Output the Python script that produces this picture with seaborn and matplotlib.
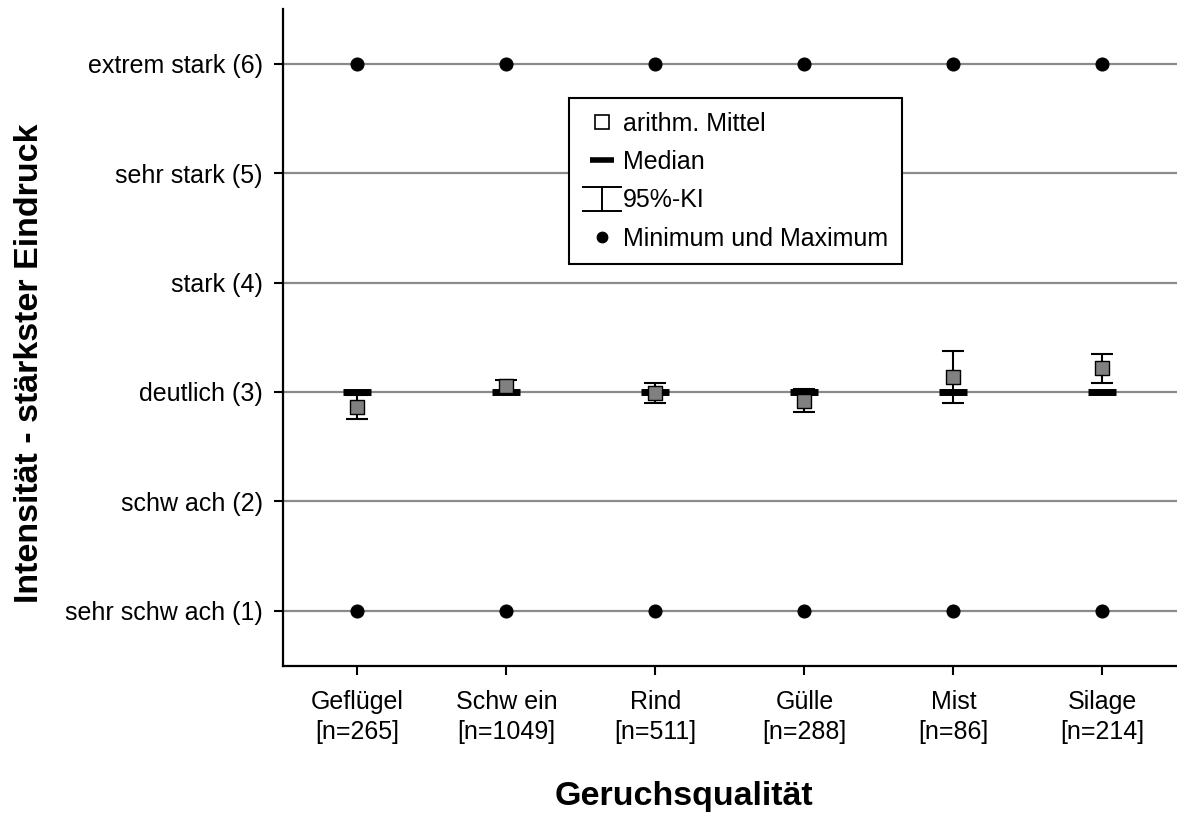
import numpy as np
import pandas as pd
import matplotlib
matplotlib.use("Agg")
import matplotlib.pyplot as plt
import seaborn as sns
from matplotlib.lines import Line2D
from matplotlib.path import Path

categories = ["Geflügel\n[n=265]", "Schw ein\n[n=1049]", "Rind\n[n=511]",
              "Gülle\n[n=288]", "Mist\n[n=86]", "Silage\n[n=214]"]
mean_vals = [2.86, 3.05, 2.99, 2.92, 3.14, 3.22]
ci_low = [2.75, 2.99, 2.90, 2.82, 2.90, 3.08]
ci_high = [2.97, 3.11, 3.08, 3.03, 3.37, 3.35]
median_vals = [3, 3, 3, 3, 3, 3]
min_vals = [1, 1, 1, 1, 1, 1]
max_vals = [6, 6, 6, 6, 6, 6]
ytick_labels = ["sehr schw ach (1)", "schw ach (2)", "deutlich (3)",
                "stark (4)", "sehr stark (5)", "extrem stark (6)"]
legend_labels = ["arithm. Mittel", "Median", "95%-KI", "Minimum und Maximum"]

sns.set_theme(style="white", rc={"text.color": "black",
                                 "axes.labelcolor": "black",
                                 "xtick.color": "black",
                                 "ytick.color": "black"})
plt.rcParams['font.family'] = ['Liberation Sans', 'DejaVu Sans']

df = pd.DataFrame({"cat": categories, "mean": mean_vals, "lo": ci_low,
                   "hi": ci_high, "median": median_vals,
                   "min": min_vals, "max": max_vals})

fig = plt.figure(figsize=(11.77, 8.16), dpi=100)
ax = fig.add_axes([0.2404, 0.1844, 0.7596, 0.8046])

for yv in range(1, 7):
    ax.axhline(yv, color="#8a8a8a", lw=1.6, zorder=1)

# min / max dots
sns.scatterplot(data=df, x="cat", y="min", ax=ax, color="black", s=88,
                marker="o", edgecolor="black", zorder=3, legend=False)
sns.scatterplot(data=df, x="cat", y="max", ax=ax, color="black", s=88,
                marker="o", edgecolor="black", zorder=3, legend=False)

xpos = np.arange(len(categories))
# median bars
ax.plot(xpos, df["median"], linestyle="none", marker="_", markersize=19.5,
        markeredgewidth=5, color="black", zorder=3)
# CI
ax.errorbar(xpos, df["mean"],
            yerr=[df["mean"] - df["lo"], df["hi"] - df["mean"]],
            fmt="none", ecolor="black", elinewidth=1.5, capsize=8, capthick=1.5,
            zorder=4)
# mean squares
sns.scatterplot(data=df, x="cat", y="mean", ax=ax, color="#808080", s=105,
                marker="s", edgecolor="black", linewidth=1.0, zorder=5,
                legend=False)

ax.set_xlim(-0.5, 5.5)
ax.set_ylim(0.5, 6.5)
ax.set_yticks(range(1, 7))
ax.set_yticklabels(ytick_labels, fontsize=18)
ax.set_xticks(xpos)
ax.set_xticklabels(categories, fontsize=18, linespacing=1.3)
ax.tick_params(axis="both", which="both", direction="out", length=6.5,
               width=1.5, color="black", left=True, bottom=True)
ax.tick_params(axis="y", pad=8)
ax.tick_params(axis="x", pad=11)
for side in ["top", "right"]:
    ax.spines[side].set_visible(False)
for side in ["left", "bottom"]:
    ax.spines[side].set_color("black")
    ax.spines[side].set_linewidth(1.6)

ax.set_xlabel("Geruchsqualität", fontsize=24.5, fontweight="bold")
ax.set_ylabel("Intensität - stärkster Eindruck", fontsize=24.5,
              fontweight="bold")
ax.xaxis.set_label_coords(0.449, -0.176)
ax.yaxis.set_label_coords(-0.266, 0.461)

ci_path = Path([(-0.5, 0.3), (0.5, 0.3), (0, 0.3), (0, -0.3),
                (-0.5, -0.3), (0.5, -0.3)],
               [Path.MOVETO, Path.LINETO, Path.MOVETO, Path.LINETO,
                Path.MOVETO, Path.LINETO])
handles = [
    Line2D([], [], linestyle="none", marker="s", markersize=10,
           markerfacecolor="white", markeredgecolor="black", markeredgewidth=1.2),
    Line2D([], [], linestyle="none", marker="_", markersize=17,
           markeredgewidth=4, color="black"),
    Line2D([], [], linestyle="none", marker=ci_path, markersize=29,
           markeredgewidth=1.4, color="black", fillstyle="none"),
    Line2D([], [], linestyle="none", marker="o", markersize=7.5, color="black"),
]
leg = ax.legend(handles, legend_labels, loc="upper left",
                bbox_to_anchor=(0.32, 0.8644), fontsize=18, frameon=True,
                fancybox=False, edgecolor="black", framealpha=1,
                handlelength=1.5, handletextpad=0.1, borderpad=0.55,
                labelspacing=0.57, borderaxespad=0)
leg.get_frame().set_linewidth(1.5)

fig.savefig("out.png", dpi=100)
